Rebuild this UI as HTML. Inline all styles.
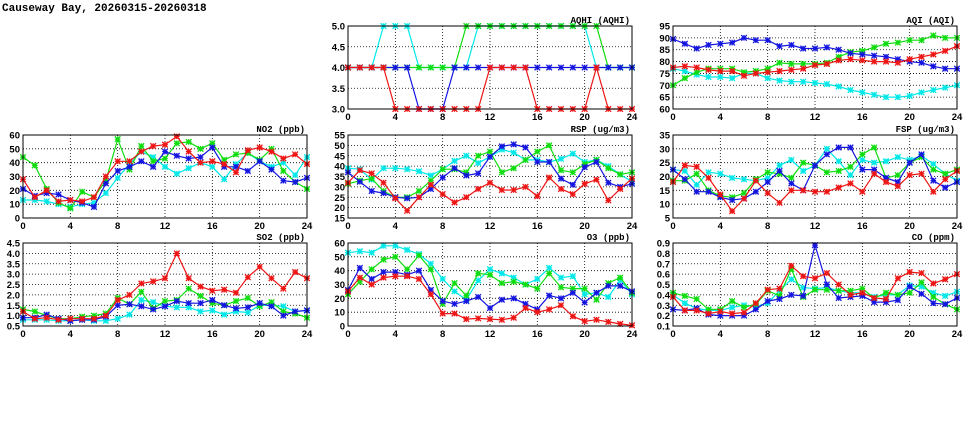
<!DOCTYPE html>
<html><head><meta charset="utf-8"><style>
body{margin:0;background:#fff;width:975px;height:447px;overflow:hidden}
svg{display:block;font-family:"Liberation Sans",sans-serif}
</style></head><body>
<svg id="c" width="975" height="447">
<text x="2" y="11" font-family="Liberation Mono, monospace" font-size="11" font-weight="bold">Causeway Bay, 20260315-20260318</text>
</svg>
<script>
const hours=[0,1,2,3,4,5,6,7,8,9,10,11,12,13,14,15,16,17,18,19,20,21,22,23,24];
const xTicks=[0,4,8,12,16,20,24];
const seriesColors=['#00e8e8','#10dd10','#1515e0','#ee1515'];
const no2Cyan=[13,13,12,10,8,10,11,18,29,39,48,44,37,32,36,40,37,28,39,47,41,37,40,31,44];
const no2Green=[44,38,21,11,7,19,15,27,57,35,52,41,43,54,55,50,54,42,46,47,42,50,34,26,21];
const no2Blue=[21,16,18,17,13,11,8,25,34,37,41,37,48,45,43,44,51,37,37,34,41,35,27,26,29];
const no2Red=[28,15,20,12,13,12,15,30,41,41,48,52,53,59,48,40,41,39,33,49,51,48,43,46,39];
const so2Cyan=[0.8,0.8,0.8,0.75,0.75,0.8,0.75,0.75,0.85,1.05,1.75,1.65,1.45,1.4,1.4,1.2,1.25,1.05,1.2,1.15,1.5,1.5,1.45,1.2,1.25];
const so2Green=[1.3,1.2,1.0,0.85,0.85,0.95,1.0,1.1,1.85,1.55,2.15,1.35,1.7,1.75,2.3,1.95,1.6,1.5,1.7,1.85,1.45,1.65,1.2,1.1,0.9];
const so2Blue=[0.9,0.9,1.05,0.85,0.75,0.8,0.8,0.95,1.5,1.55,1.45,1.3,1.45,1.7,1.6,1.6,1.75,1.5,1.35,1.4,1.6,1.45,1.0,1.2,1.25];
const so2Red=[1.2,0.85,0.9,0.8,0.85,0.85,0.85,1.0,1.75,2.0,2.55,2.65,2.8,4.0,2.8,2.4,2.2,2.25,2.1,2.85,3.35,2.8,2.3,3.1,2.8];
const aqhiCyan=[4,4,4,5,5,5,4,4,4,4,4,5,5,5,5,5,5,5,5,5,5,4,4,4,4];
const aqhiGreen=[4,4,4,4,4,4,4,4,4,4,5,5,5,5,5,5,5,5,5,5,5,5,4,4,4];
const aqhiBlue=[4,4,4,4,4,4,3,3,3,4,4,4,4,4,4,4,4,4,4,4,4,4,4,4,4];
const aqhiRed=[4,4,4,4,3,3,3,3,3,3,3,3,4,4,4,4,3,3,3,3,3,4,3,3,3];
const rspCyan=[39,38.5,33.5,39,39,38.5,37.5,35.5,38.5,42.5,45,41.5,44.5,48,46.5,43,43,42,43.5,46,42,43,40,36,32.5];
const rspGreen=[31.5,33,34,28,25,25,28,33,38.5,38.5,37,45,47,37,39,43,47,50,38,37,41,43,39,36,37];
const rspBlue=[37,32.5,28,27,25,24.5,25,29,34.5,39,35.5,36.5,44.5,49.5,50.5,49,42,42,34,31,39.5,42,32,30,31.5];
const rspRed=[32,38,36.5,32,24.5,18.5,25,31,26.5,22.5,25,29,32,28.5,28.5,30,25.5,34.5,29,26.5,31.5,33.5,23.5,29,34];
const o3Cyan=[53,54,53,58,58,55,52,45,34,25,19,33,41,38,35,30,34,42,35,36,23,24,21,33,23];
const o3Green=[23,32,41,48,50,41,51,41,16,31,22,38,37,31,32,30,27,38,28,27,27,19,31,35,24];
const o3Blue=[26,42,34,39,39,37,40,26,18,16,18,21,13,19,20,16,12,22,20,24,17,24,29,29,25];
const o3Red=[25,35,30,35,36,36,34,23,9,9,5,5.5,5,4.5,6,13,10,12,15,7,3.5,4.5,3,1.5,0.5];
const aqiCyan=[77,76,74.5,73.5,73.5,73,75,75,73,72,71.5,71.5,71,70.5,69.5,68,67,66,65,65,65.5,67,68,69,70];
const aqiGreen=[70,73,75.5,77,77,77,75.5,76,77,79.5,79,79,79,79.5,82,84,84.5,86,87.5,88,89,89,91,90,90];
const aqiBlue=[89.5,87.5,85.5,87,87.5,88,90,89,89,86.5,87,85.5,85.5,86,85,83.5,83,82.5,82,81,80,79.5,78,77,77];
const aqiRed=[77.5,78,77.5,76.5,76,76,74,75,75.5,76,76.5,77,78.5,79,80.5,81,80.5,80,80,79.5,81,82,83,84.5,86.5];
const fspCyan=[22.5,22,17,21.5,21,19.5,19,18.5,19.5,24,26,22,24,30,25.5,20.5,26,25,25.5,27,26,27.5,24.5,21,18.5];
const fspGreen=[18.5,18.5,21,15,13,12.5,14,19,21.5,21,19.5,25,24,21.5,22,23.5,28,30.5,19.5,20.5,25,27,22.5,21,22.5];
const fspBlue=[22.5,19,14.5,14.5,12.5,11.5,12,14.5,18,22,17.5,15,24,28,30.5,30.5,22.5,22.5,19.5,18,25,28,18.5,16,18];
const fspRed=[18,24,23.5,19.5,13.5,7.5,12,18.5,14,10.5,15,15,14.5,14.5,16,17.5,14.5,21,18,16.5,20.5,21,14.5,19,22];
const coCyan=[0.4,0.32,0.27,0.25,0.25,0.28,0.3,0.29,0.32,0.44,0.55,0.47,0.46,0.47,0.44,0.42,0.42,0.38,0.4,0.4,0.49,0.48,0.42,0.39,0.43];
const coGreen=[0.42,0.39,0.36,0.26,0.26,0.34,0.28,0.31,0.44,0.39,0.65,0.38,0.45,0.45,0.44,0.44,0.46,0.37,0.42,0.4,0.42,0.52,0.38,0.31,0.26];
const coBlue=[0.26,0.25,0.27,0.21,0.2,0.2,0.2,0.26,0.34,0.36,0.4,0.39,0.88,0.5,0.37,0.38,0.39,0.33,0.33,0.35,0.48,0.41,0.32,0.31,0.37];
const coRed=[0.38,0.25,0.25,0.22,0.24,0.22,0.23,0.32,0.45,0.46,0.68,0.58,0.56,0.61,0.5,0.4,0.42,0.37,0.36,0.56,0.62,0.61,0.51,0.55,0.6];
const no2Ticks=[0,10,20,30,40,50,60];
const so2Ticks=[0.5,1.0,1.5,2.0,2.5,3.0,3.5,4.0,4.5];
const aqhiTicks=[3.0,3.5,4.0,4.5,5.0];
const rspTicks=[15,20,25,30,35,40,45,50,55];
const o3Ticks=[0,10,20,30,40,50,60];
const aqiTicks=[60,65,70,75,80,85,90,95];
const fspTicks=[5,10,15,20,25,30,35];
const coTicks=[0.1,0.2,0.3,0.4,0.5,0.6,0.7,0.8,0.9];

const NS='http://www.w3.org/2000/svg';
const svg=document.getElementById('c');
function mk(tag,attrs,parent){const e=document.createElementNS(NS,tag);for(const k in attrs)e.setAttribute(k,attrs[k]);(parent||svg).appendChild(e);return e;}
let clipN=0;
function panel(name,title,px,py,ticks,dec,series){
  const W=284,H=83;
  const g=mk('g',{});
  
  
  const lo=ticks[0],hi=ticks[ticks.length-1];
  const xs=v=>px+v/24*W;
  const ys=v=>py+H-(v-lo)/(hi-lo)*H;
  const t=mk('text',{x:px+W-2,y:py-3,'text-anchor':'end','font-size':9,'font-weight':'bold','font-family':'Liberation Mono, monospace'},g);
  t.textContent=title;
  
  
  ticks.forEach((v,i)=>{
    const y=ys(v);
    if(i>0&&i<ticks.length-1){const l=mk('line',{x1:px,x2:px+W,y1:y,y2:y,stroke:'#000','stroke-width':0.8,'stroke-dasharray':'1,2'},g);
      
      }
    const lb=mk('text',{x:px-3,y:y+3.5,'text-anchor':'end','font-size':9.5,'font-weight':'bold'},g);
    lb.textContent=dec?v.toFixed(1):String(v);
    
    
  });
  xTicks.forEach((v,i)=>{
    const x=xs(v);
    if(i>0&&i<xTicks.length-1){const l=mk('line',{x1:x,x2:x,y1:py,y2:py+H,stroke:'#000','stroke-width':0.8,'stroke-dasharray':'1,2'},g);
      
      }
    const lb=mk('text',{x:x,y:py+H+11,'text-anchor':'middle','font-size':9.5,'font-weight':'bold'},g);
    lb.textContent=String(v);
    
    
  });
  const id='cl'+(clipN++);
  const cp=mk('clipPath',{id:id},g);mk('rect',{x:px-3,y:py-3,width:W+6,height:H+6},cp);
  const sg=mk('g',{'clip-path':'url(#'+id+')'},g);
  series.forEach((vals,si)=>{
    const col=seriesColors[si];
    const pts=hours.map((h,i)=>xs(h).toFixed(1)+','+ys(vals[i]).toFixed(1)).join(' ');
    const pl=mk('polyline',{points:pts,fill:'none',stroke:col,'stroke-width':1.2},sg);
    
    
    hours.forEach((h,i)=>{
      const x=xs(h),y=ys(vals[i]),r=2.8;
      const m=mk('path',{d:`M${x-r},${y-r}L${x+r},${y+r}M${x-r},${y+r}L${x+r},${y-r}M${x-r},${y}L${x+r},${y}M${x},${y-r}L${x},${y+r}`,stroke:col,'stroke-width':1.3},sg);
      
      
    });
  });
  const fr=mk('rect',{x:px,y:py,width:W,height:H,fill:'none',stroke:'#000','stroke-width':1},g);
  
  
}
const cx=[23,348,673],ry=[26,135,243];
panel('aqhi','AQHI (AQHI)',cx[1],ry[0],aqhiTicks,true,[aqhiCyan,aqhiGreen,aqhiBlue,aqhiRed]);
panel('aqi','AQI (AQI)',cx[2],ry[0],aqiTicks,false,[aqiCyan,aqiGreen,aqiBlue,aqiRed]);
panel('no2','NO2 (ppb)',cx[0],ry[1],no2Ticks,false,[no2Cyan,no2Green,no2Blue,no2Red]);
panel('rsp','RSP (ug/m3)',cx[1],ry[1],rspTicks,false,[rspCyan,rspGreen,rspBlue,rspRed]);
panel('fsp','FSP (ug/m3)',cx[2],ry[1],fspTicks,false,[fspCyan,fspGreen,fspBlue,fspRed]);
panel('so2','SO2 (ppb)',cx[0],ry[2],so2Ticks,true,[so2Cyan,so2Green,so2Blue,so2Red]);
panel('o3','O3 (ppb)',cx[1],ry[2],o3Ticks,false,[o3Cyan,o3Green,o3Blue,o3Red]);
panel('co','CO (ppm)',cx[2],ry[2],coTicks,true,[coCyan,coGreen,coBlue,coRed]);
</script>
</body></html>
